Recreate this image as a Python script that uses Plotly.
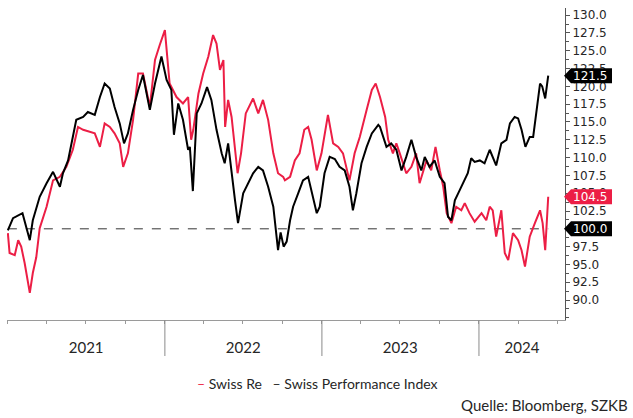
import plotly.graph_objects as go

# ---------------- data ----------------
spi_dates = [
    "2021-01-01", "2021-01-13", "2021-02-04", "2021-02-21", "2021-02-28", "2021-03-16", "2021-04-01",
    "2021-04-16", "2021-05-02", "2021-05-09", "2021-05-21", "2021-06-09", "2021-06-25", "2021-07-06",
    "2021-07-22", "2021-08-03", "2021-08-14", "2021-08-26", "2021-09-06", "2021-09-18", "2021-09-28",
    "2021-10-07", "2021-10-19", "2021-10-31", "2021-11-11", "2021-11-27", "2021-12-09", "2021-12-24",
    "2022-01-05", "2022-01-16", "2022-01-22", "2022-02-01", "2022-02-12", "2022-02-24", "2022-02-28",
    "2022-03-07", "2022-03-16", "2022-03-27", "2022-04-09", "2022-04-19", "2022-05-01", "2022-05-13",
    "2022-05-20", "2022-05-28", "2022-06-13", "2022-06-20", "2022-07-02", "2022-07-14", "2022-07-25",
    "2022-08-06", "2022-08-17", "2022-08-29", "2022-09-10", "2022-09-21", "2022-09-27", "2022-10-04",
    "2022-10-11", "2022-10-19", "2022-10-26", "2022-11-07", "2022-11-18", "2022-11-30", "2022-12-08",
    "2022-12-20", "2022-12-27", "2023-01-07", "2023-01-19", "2023-01-31", "2023-02-11", "2023-02-23",
    "2023-03-06", "2023-03-14", "2023-03-22", "2023-04-03", "2023-04-15", "2023-04-27", "2023-05-12",
    "2023-05-16", "2023-05-31", "2023-06-11", "2023-06-23", "2023-07-05", "2023-07-16", "2023-07-28",
    "2023-08-08", "2023-08-20", "2023-08-28", "2023-09-08", "2023-09-20", "2023-10-02", "2023-10-13",
    "2023-10-21", "2023-10-29", "2023-11-06", "2023-11-17", "2023-11-29", "2023-12-06", "2023-12-14",
    "2023-12-22", "2024-01-03", "2024-01-14", "2024-01-26", "2024-02-02", "2024-02-10", "2024-02-22",
    "2024-03-05", "2024-03-13", "2024-03-24", "2024-04-01", "2024-04-09", "2024-04-18", "2024-04-28",
    "2024-05-06", "2024-05-14", "2024-05-22", "2024-05-27", "2024-06-03", "2024-06-10",
]
spi_values = [
    99.8, 101.5, 102.2, 98.4, 101.2, 104.5, 106.4,
    108.0, 105.9, 107.8, 109.6, 115.3, 115.7, 116.4,
    116.0, 118.5, 120.4, 119.7, 117.1, 114.8, 112.0,
    113.4, 116.7, 119.5, 121.6, 116.7, 120.4, 124.2,
    120.9, 119.5, 113.2, 117.6, 115.3, 111.1, 111.5,
    105.3, 116.2, 117.6, 119.9, 118.1, 113.9, 110.6,
    109.2, 112.0, 104.0, 100.8, 105.0, 106.4, 107.8,
    108.7, 108.2, 105.9, 103.1, 97.0, 99.5, 97.5,
    98.2, 101.2, 103.1, 105.0, 106.8, 107.3, 105.4,
    102.2, 103.1, 107.8, 110.1, 109.8, 108.7, 108.2,
    105.9, 102.6, 105.0, 109.2, 111.5, 113.4, 114.6,
    114.3, 111.5, 112.0, 111.1, 108.2, 110.1, 112.5,
    110.1, 108.2, 110.1, 108.7, 109.6, 107.3, 106.4,
    101.7, 101.2, 104.0, 105.4, 106.8, 107.8, 109.9,
    109.4, 109.6, 109.2, 111.1, 110.1, 108.9, 112.0,
    112.5, 114.8, 115.7, 115.5, 113.9, 111.5, 112.9,
    112.9, 117.1, 120.4, 120.0, 118.3, 121.5,
]

swissre_dates = [
    "2021-01-01", "2021-01-05", "2021-01-17", "2021-01-25", "2021-02-01", "2021-02-09", "2021-02-21",
    "2021-02-28", "2021-03-08", "2021-03-16", "2021-04-01", "2021-04-16", "2021-05-02", "2021-05-17",
    "2021-06-01", "2021-06-13", "2021-06-25", "2021-07-06", "2021-07-22", "2021-08-03", "2021-08-14",
    "2021-08-26", "2021-09-06", "2021-09-18", "2021-09-26", "2021-10-07", "2021-10-19", "2021-10-31",
    "2021-11-11", "2021-11-27", "2021-12-09", "2021-12-20", "2022-01-01", "2022-01-12", "2022-01-28",
    "2022-02-12", "2022-02-24", "2022-03-03", "2022-03-08", "2022-03-20", "2022-03-31", "2022-04-12",
    "2022-04-23", "2022-05-01", "2022-05-09", "2022-05-17", "2022-05-21", "2022-05-28", "2022-06-05",
    "2022-06-19", "2022-06-27", "2022-07-08", "2022-07-25", "2022-08-06", "2022-08-17", "2022-08-29",
    "2022-09-10", "2022-09-21", "2022-10-03", "2022-10-07", "2022-10-19", "2022-10-30", "2022-11-10",
    "2022-11-21", "2022-11-30", "2022-12-08", "2022-12-20", "2022-12-31", "2023-01-15", "2023-01-27",
    "2023-02-08", "2023-02-19", "2023-03-06", "2023-03-18", "2023-03-30", "2023-04-15", "2023-04-27",
    "2023-05-06", "2023-05-16", "2023-05-28", "2023-06-04", "2023-06-15", "2023-06-23", "2023-07-01",
    "2023-07-16", "2023-07-28", "2023-08-08", "2023-08-16", "2023-09-01", "2023-09-12", "2023-09-22",
    "2023-10-02", "2023-10-10", "2023-10-18", "2023-10-29", "2023-11-09", "2023-11-21", "2023-11-29",
    "2023-12-10", "2023-12-22", "2024-01-07", "2024-01-18", "2024-01-26", "2024-02-02", "2024-02-10",
    "2024-02-22", "2024-03-01", "2024-03-09", "2024-03-20", "2024-04-01", "2024-04-09", "2024-04-17",
    "2024-04-28", "2024-05-10", "2024-05-22", "2024-05-28", "2024-06-03", "2024-06-10",
]
swissre_values = [
    99.4, 96.6, 96.3, 98.4, 97.5, 95.2, 91.0,
    93.8, 96.0, 100.1, 103.1, 106.8, 107.3, 108.7,
    111.1, 114.3, 113.9, 113.7, 113.4, 111.5, 114.8,
    114.3, 113.4, 112.0, 108.7, 110.6, 115.3, 121.8,
    121.8, 117.1, 123.7, 125.8, 127.9, 120.4, 118.5,
    117.6, 118.5, 112.5, 113.9, 119.0, 121.8, 124.2,
    127.2, 126.0, 122.3, 123.7, 114.3, 118.1, 115.7,
    107.8, 110.6, 116.2, 118.3, 116.2, 118.1, 115.3,
    110.6, 107.8, 107.3, 106.8, 107.3, 109.6, 110.6,
    113.9, 114.3, 112.5, 108.2, 110.6, 116.0, 112.0,
    111.5, 110.6, 106.8, 110.6, 112.9, 116.7, 119.5,
    120.4, 118.5, 115.7, 112.5, 110.6, 112.0, 110.6,
    107.8, 108.7, 110.6, 106.4, 109.6, 108.2, 111.5,
    108.2, 105.9, 102.2, 100.8, 103.1, 102.6, 103.6,
    102.2, 101.0, 102.2, 101.2, 103.1, 102.6, 98.9,
    102.6, 96.6, 95.6, 99.4, 98.4, 97.0, 94.7,
    98.9, 100.8, 102.6, 100.8, 97.0, 104.5,
]

series_names = ["Swiss Re", "Swiss Performance Index"]
base_level = 100.0
year_labels = ["2021", "2022", "2023", "2024"]
year_label_dates = ["2021-07-02", "2022-07-02", "2023-07-02", "2024-04-10"]
year_boundaries = ["2022-01-01", "2023-01-01", "2024-01-01"]
y_tick_values = [90.0, 92.5, 95.0, 97.5, 100.0, 102.5, 105.0, 107.5, 110.0, 112.5,
                 115.0, 117.5, 120.0, 122.5, 125.0, 127.5, 130.0]
x_range = ["2020-12-30", "2024-07-19"]
y_range = [87.2, 131.0]
source_text = "Quelle: Bloomberg, SZKB"

RED = "#EC1E45"
BLACK = "#000000"
AXIS = "#555555"
TXT = "#262626"

fig = go.Figure()
fig.add_trace(go.Scatter(x=swissre_dates, y=swissre_values, mode="lines", name=series_names[0],
                         line=dict(color=RED, width=2), showlegend=False))
fig.add_trace(go.Scatter(x=spi_dates, y=spi_values, mode="lines", name=series_names[1],
                         line=dict(color=BLACK, width=2), showlegend=False))

# dashed base line at 100
fig.add_shape(type="line", xref="x", yref="y", x0=spi_dates[0], x1=spi_dates[-1],
              y0=base_level, y1=base_level, line=dict(color="#333333", width=1, dash="dash"),
              layer="below")

# year separators below the axis
for d in year_boundaries:
    fig.add_shape(type="line", xref="x", yref="paper", x0=d, x1=d,
                  yanchor=0, ysizemode="pixel", y0=0, y1=-36,
                  line=dict(color="#8a8a8a", width=1))

# value tags on the right axis
tags = [(spi_values[-1], BLACK), (swissre_values[-1], RED), (base_level, BLACK)]
for val, col in tags:
    fig.add_shape(type="path", xref="paper", yref="y", xanchor=1, yanchor=val,
                  xsizemode="pixel", ysizemode="pixel",
                  path="M -1,0 L 6,7.5 L 47,7.5 L 47,-7.5 L 6,-7.5 Z",
                  fillcolor=col, line=dict(width=0), layer="above")
    fig.add_annotation(xref="paper", yref="y", x=1, y=val, xanchor="left", yanchor="middle",
                       xshift=6, text=f"{val:.1f}", showarrow=False,
                       font=dict(family="DejaVu Sans", size=12, color="white"))

# legend (as text line)
fig.add_annotation(xref="paper", yref="paper", x=0.557, y=-0.202, xanchor="center", yanchor="middle",
                   text=(f"<span style='color:{RED}'>–</span> {series_names[0]}"
                         f"&nbsp;&nbsp;&nbsp;– {series_names[1]}"),
                   showarrow=False, font=dict(family="Lato", size=14, color=TXT))
fig.add_annotation(xref="paper", yref="paper", x=1.1165, y=-0.272, xanchor="right", yanchor="middle",
                   text=source_text, showarrow=False, font=dict(family="Lato", size=15, color=TXT))

fig.update_layout(
    width=633, height=418,
    margin=dict(l=7, r=68, t=8, b=98),
    paper_bgcolor="white", plot_bgcolor="white",
    showlegend=False,
    xaxis=dict(
        type="date", range=x_range, showgrid=False, zeroline=False,
        showline=True, linecolor="#9a9a9a", linewidth=1,
        tickmode="array", tickvals=year_label_dates, ticktext=year_labels,
        ticks="", ticklabelstandoff=14,
        tickfont=dict(family="Lato", size=15, color=TXT),
        minor=dict(ticks="outside", dtick="M3", tick0="2021-01-01", ticklen=3,
                   tickcolor="#9a9a9a", showgrid=False),
    ),
    yaxis=dict(
        side="right", range=y_range, showgrid=False, zeroline=False,
        showline=True, linecolor=AXIS, linewidth=1,
        tickmode="array", tickvals=y_tick_values, tickformat=".1f",
        ticks="outside", ticklen=4, tickcolor=AXIS,
        tickfont=dict(family="DejaVu Sans", size=12, color=TXT),
        minor=dict(ticks="outside", dtick=1.25, tick0=90, ticklen=3, tickcolor=AXIS, showgrid=False),
    ),
)

fig.write_html("out.html", config={"displayModeBar": False},
               post_script="document.body.style.margin='0';document.body.style.overflow='hidden';")
